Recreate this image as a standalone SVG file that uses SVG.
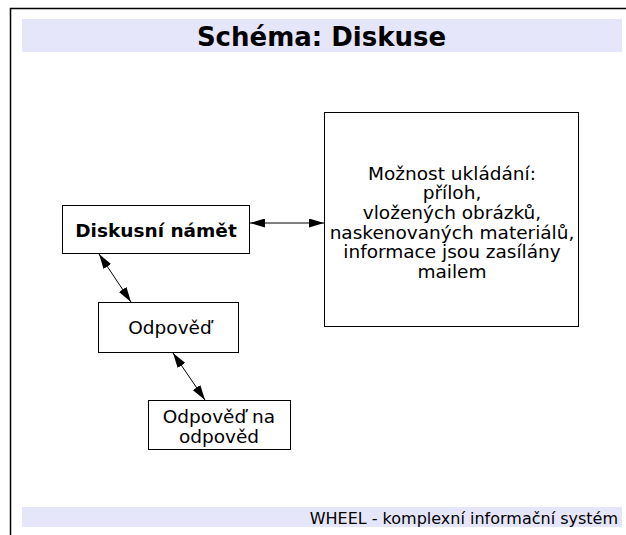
<svg xmlns="http://www.w3.org/2000/svg" width="626" height="535" viewBox="0 0 626 535">
<style>
text{font-family:"DejaVu Sans","Verdana",sans-serif;fill:#000}
.box{fill:#fff;stroke:#000;stroke-width:1}
.band{fill:#e6e6fa}
.lbl{font-size:18.5px;text-anchor:middle}
.c{stroke:#000;stroke-width:1;fill:none;marker-start:url(#ah);marker-end:url(#ah)}
</style>
<defs>
<marker id="ah" viewBox="0 0 15 9" refX="15" refY="4.5" markerWidth="15" markerHeight="9" markerUnits="userSpaceOnUse" orient="auto-start-reverse">
<path d="M0,0 L15,4.5 L0,9 Z" fill="#000"/>
</marker>
</defs>
<rect width="626" height="535" fill="#fff"/>
<g id="frame">
<path d="M10.5,535 V8.5 H626" fill="none" stroke="#000" stroke-width="1.5"/>
<rect class="band" x="22" y="19" width="600" height="33"/>
<text x="321.5" y="46" font-size="26" font-weight="bold" text-anchor="middle">Schéma: Diskuse</text>
<rect class="band" x="22" y="507" width="600" height="20"/>
<text x="618" y="524" font-size="16" text-anchor="end">WHEEL - komplexní informační systém</text>
</g>
<g id="connectors">
<line class="c" x1="250" y1="223" x2="324" y2="223"/>
<line class="c" x1="99" y1="254" x2="131" y2="302"/>
<line class="c" x1="173" y1="353" x2="205" y2="400"/>
</g>
<g id="n1">
<rect class="box" x="62.5" y="205.5" width="187" height="48"/>
<text class="lbl" x="156" y="237" font-weight="bold">Diskusní námět</text>
</g>
<g id="n2">
<rect class="box" x="98.5" y="302.5" width="140" height="50"/>
<text class="lbl" x="170" y="334">Odpověď</text>
</g>
<g id="n3">
<rect class="box" x="148.5" y="400.5" width="142" height="49"/>
<text class="lbl" x="219" y="423">Odpověď na</text>
<text class="lbl" x="219" y="443">odpověd</text>
</g>
<g id="n4">
<rect class="box" x="324.5" y="112.5" width="254" height="214"/>
<text class="lbl" x="452" y="179.5">Možnost ukládání:</text>
<text class="lbl" x="452" y="199">příloh,</text>
<text class="lbl" x="452" y="219">vložených obrázků,</text>
<text class="lbl" x="452" y="238.5">naskenovaných materiálů,</text>
<text class="lbl" x="452" y="258">informace jsou zasílány</text>
<text class="lbl" x="452" y="278">mailem</text>
</g>
</svg>
